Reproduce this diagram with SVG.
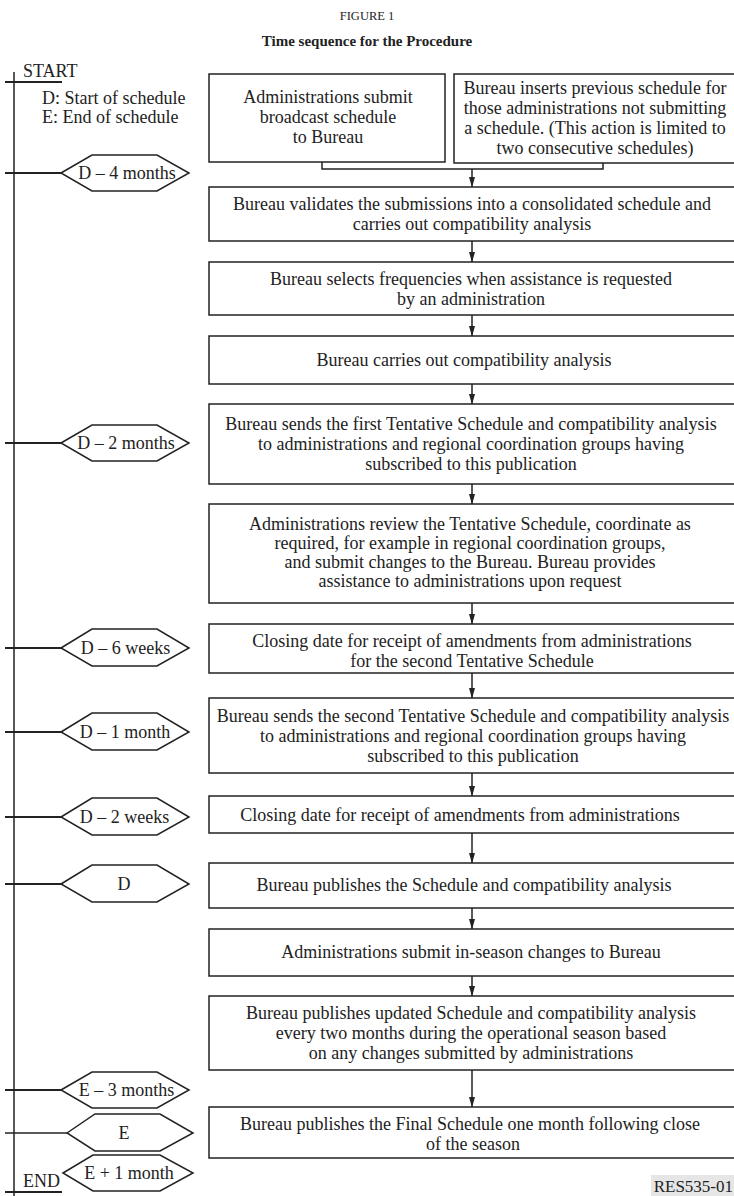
<svg xmlns="http://www.w3.org/2000/svg" width="734" height="1196" viewBox="0 0 734 1196">
<style>
text{font-family:"Liberation Serif","Times New Roman",serif;font-size:18px;fill:#222}
.c{text-anchor:middle}
.fig{font-size:12.5px}
.ttl{font-size:15px;font-weight:bold}
.ref{font-size:17px;text-anchor:end}
.box{fill:#fff;stroke:#222;stroke-width:1.5}
.hex{fill:#fff;stroke:#222;stroke-width:1.5}
.tick{stroke:#222;stroke-width:2;fill:none}
.line{stroke:#222;stroke-width:1.5;fill:none}
.arr{stroke:#222;stroke-width:1.5;fill:none;marker-end:url(#ah)}
</style>
<defs>
<marker id="ah" markerUnits="userSpaceOnUse" markerWidth="11" markerHeight="7" refX="10" refY="3.5" orient="auto" viewBox="0 0 11 7">
<path d="M0,0.5 L10.5,3.5 L0,6.5 Z" fill="#222"/>
</marker>
</defs>

<g id="title">
<text class="c fig" x="367" y="20">FIGURE 1</text>
<text class="c ttl" x="367" y="46">Time sequence for the Procedure</text>
</g>

<g id="timeline">
<line class="line" x1="14" y1="72" x2="14" y2="1196"/>
<line class="tick" x1="5" y1="82" x2="62" y2="82"/>
<text x="23" y="77">START</text>
<text x="42" y="104">D: Start of schedule</text>
<text x="42" y="123">E: End of schedule</text>
<line class="tick" x1="5" y1="1192" x2="62" y2="1192"/>
<text x="23" y="1187">END</text>
</g>

<g id="ticks">
<line class="tick" x1="5" y1="173" x2="61" y2="173"/>
<line class="tick" x1="5" y1="443" x2="61" y2="443"/>
<line class="tick" x1="5" y1="648" x2="61" y2="648"/>
<line class="tick" x1="5" y1="732" x2="61" y2="732"/>
<line class="tick" x1="5" y1="817" x2="61" y2="817"/>
<line class="tick" x1="5" y1="884" x2="61" y2="884"/>
<line class="tick" x1="5" y1="1090" x2="61" y2="1090"/>
<line class="line" x1="5" y1="1133" x2="67" y2="1133"/>
</g>

<g id="hex-d4m"><polygon class="hex" points="61,173 92,155 157,155 189,173 157,191 92,191"/><text class="c" x="127" y="179">D – 4 months</text></g>
<g id="hex-d2m"><polygon class="hex" points="61,443 92,425 157,425 189,443 157,461 92,461"/><text class="c" x="126" y="449">D – 2 months</text></g>
<g id="hex-d6w"><polygon class="hex" points="61,648 92,629 157,629 189,648 157,666 92,666"/><text class="c" x="125.5" y="654">D – 6 weeks</text></g>
<g id="hex-d1m"><polygon class="hex" points="61,732 92,713 157,713 189,732 157,750 92,750"/><text class="c" x="125" y="738">D – 1 month</text></g>
<g id="hex-d2w"><polygon class="hex" points="61,817 92,798 157,798 189,817 157,835 92,835"/><text class="c" x="124.5" y="823">D – 2 weeks</text></g>
<g id="hex-d"><polygon class="hex" points="61,884 92,865 157,865 189,884 157,902 92,902"/><text class="c" x="124" y="890">D</text></g>
<g id="hex-e3m"><polygon class="hex" points="61,1090 92,1072 157,1072 189,1090 157,1108 92,1108"/><text class="c" x="126.5" y="1096">E – 3 months</text></g>
<g id="hex-e"><polygon class="hex" points="67,1133 95,1114 160,1114 193,1133 160,1151 95,1151"/><text class="c" x="124" y="1139">E</text></g>
<g id="hex-e1m"><polygon class="hex" points="63,1173 93,1155 160,1155 193,1173 160,1191 93,1191"/><text class="c" x="129" y="1179">E + 1 month</text></g>

<g id="connectors">
<polyline class="line" points="322,162 322,169 603,169 603,163"/>
<line class="arr" x1="472" y1="169" x2="472" y2="187"/>
<line class="arr" x1="472" y1="241" x2="472" y2="262"/>
<line class="arr" x1="472" y1="315" x2="472" y2="336"/>
<line class="arr" x1="472" y1="384" x2="472" y2="404"/>
<line class="arr" x1="472" y1="484" x2="472" y2="504"/>
<line class="arr" x1="472" y1="603" x2="472" y2="624"/>
<line class="arr" x1="472" y1="673" x2="472" y2="698"/>
<line class="arr" x1="472" y1="773" x2="472" y2="796"/>
<line class="arr" x1="472" y1="833" x2="472" y2="863"/>
<line class="arr" x1="472" y1="908" x2="472" y2="929"/>
<line class="arr" x1="472" y1="976" x2="472" y2="996"/>
<line class="arr" x1="472" y1="1070" x2="472" y2="1107" stroke-width="2"/>
</g>

<g id="b1"><rect class="box" x="209" y="74" width="236" height="88"/>
<text class="c"><tspan x="328" y="103">Administrations submit</tspan><tspan x="328" y="123">broadcast schedule</tspan><tspan x="328" y="143">to Bureau</tspan></text></g>
<g id="b2"><rect class="box" x="454" y="74" width="290" height="89"/>
<text class="c"><tspan x="595" y="94">Bureau inserts previous schedule for</tspan><tspan x="595" y="114">those administrations not submitting</tspan><tspan x="595" y="134">a schedule. (This action is limited to</tspan><tspan x="595" y="154">two consecutive schedules)</tspan></text></g>
<g id="b3"><rect class="box" x="209" y="187" width="535" height="54"/>
<text class="c"><tspan x="472" y="210">Bureau validates the submissions into a consolidated schedule and</tspan><tspan x="472" y="230">carries out compatibility analysis</tspan></text></g>
<g id="b4"><rect class="box" x="209" y="262" width="535" height="53"/>
<text class="c"><tspan x="471" y="284.5">Bureau selects frequencies when assistance is requested</tspan><tspan x="471" y="304.5">by an administration</tspan></text></g>
<g id="b5"><rect class="box" x="209" y="336" width="535" height="48"/>
<text class="c" x="464" y="366">Bureau carries out compatibility analysis</text></g>
<g id="b6"><rect class="box" x="209" y="404" width="535" height="80"/>
<text class="c"><tspan x="471" y="430">Bureau sends the first Tentative Schedule and compatibility analysis</tspan><tspan x="471" y="450">to administrations and regional coordination groups having</tspan><tspan x="471" y="470">subscribed to this publication</tspan></text></g>
<g id="b7"><rect class="box" x="209" y="504" width="535" height="99"/>
<text class="c"><tspan x="470" y="530">Administrations review the Tentative Schedule, coordinate as</tspan><tspan x="470" y="549">required, for example in regional coordination groups,</tspan><tspan x="470" y="568">and submit changes to the Bureau. Bureau provides</tspan><tspan x="470" y="587">assistance to administrations upon request</tspan></text></g>
<g id="b8"><rect class="box" x="209" y="624" width="535" height="49"/>
<text class="c"><tspan x="472" y="647">Closing date for receipt of amendments from administrations</tspan><tspan x="472" y="667">for the second Tentative Schedule</tspan></text></g>
<g id="b9"><rect class="box" x="209" y="698" width="535" height="75"/>
<text class="c"><tspan x="473" y="722">Bureau sends the second Tentative Schedule and compatibility analysis</tspan><tspan x="473" y="742">to administrations and regional coordination groups having</tspan><tspan x="473" y="762">subscribed to this publication</tspan></text></g>
<g id="b10"><rect class="box" x="209" y="796" width="535" height="37"/>
<text class="c" x="460" y="821">Closing date for receipt of amendments from administrations</text></g>
<g id="b11"><rect class="box" x="209" y="863" width="535" height="45"/>
<text class="c" x="464" y="891">Bureau publishes the Schedule and compatibility analysis</text></g>
<g id="b12"><rect class="box" x="209" y="929" width="535" height="47"/>
<text class="c" x="471" y="958">Administrations submit in-season changes to Bureau</text></g>
<g id="b13"><rect class="box" x="209" y="996" width="535" height="74"/>
<text class="c"><tspan x="471" y="1019">Bureau publishes updated Schedule and compatibility analysis</tspan><tspan x="471" y="1039">every two months during the operational season based</tspan><tspan x="471" y="1059">on any changes submitted by administrations</tspan></text></g>
<g id="b14"><rect class="box" x="209" y="1107" width="535" height="51"/>
<text class="c"><tspan x="470" y="1130">Bureau publishes the Final Schedule one month following close</tspan><tspan x="473" y="1150">of the season</tspan></text></g>

<g id="ref">
<rect x="651" y="1175" width="83" height="21" fill="#e6e6e6"/>
<text class="ref" x="733" y="1192">RES535-01</text>
</g>
</svg>
